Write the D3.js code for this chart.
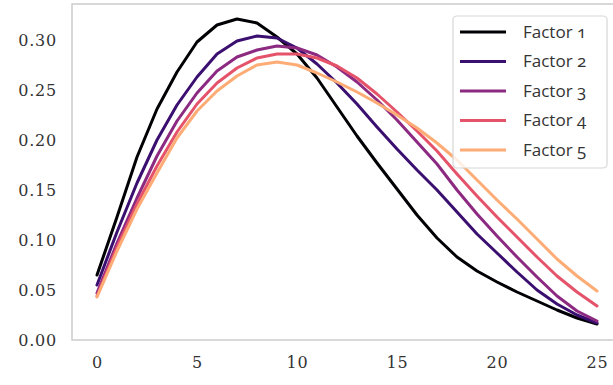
<!DOCTYPE html>
<html>
<head>
<meta charset="utf-8">
<script src="https://cdn.jsdelivr.net/npm/d3@7"></script>
<style>
  html, body { margin: 0; padding: 0; background: #fff; }
  svg { display: block; }
  .tick text { font-family: "DejaVu Serif", serif; font-size: 16px; fill: #333; letter-spacing: 0.8px; }
  .legend text { font-family: "Open Sans", "Noto Sans", sans-serif; font-size: 17px; fill: #333; font-variant-numeric: oldstyle-nums; font-feature-settings: "onum" 1; }
</style>
</head>
<body>
<script>
const xValues = d3.range(0, 26);
const seriesNames = ["Factor 1", "Factor 2", "Factor 3", "Factor 4", "Factor 5"];
const factor1 = [0.065,0.123,0.183,0.231,0.268,0.298,0.315,0.321,0.317,0.303,0.286,0.262,0.233,0.204,0.177,0.151,0.125,0.102,0.083,0.069,0.058,0.048,0.039,0.030,0.022,0.016];
const factor2 = [0.055,0.108,0.157,0.200,0.235,0.263,0.286,0.299,0.304,0.302,0.292,0.276,0.257,0.236,0.213,0.191,0.170,0.150,0.128,0.106,0.087,0.068,0.050,0.036,0.025,0.017];
const factor3 = [0.047,0.097,0.142,0.184,0.219,0.247,0.269,0.283,0.290,0.294,0.292,0.285,0.273,0.258,0.240,0.220,0.198,0.176,0.150,0.126,0.104,0.083,0.063,0.044,0.029,0.019];
const factor4 = [0.044,0.093,0.136,0.174,0.208,0.236,0.257,0.272,0.282,0.286,0.286,0.282,0.274,0.262,0.246,0.228,0.209,0.189,0.166,0.144,0.123,0.103,0.083,0.064,0.048,0.034];
const factor5 = [0.043,0.089,0.131,0.167,0.202,0.229,0.249,0.264,0.275,0.278,0.275,0.267,0.258,0.248,0.237,0.225,0.212,0.197,0.180,0.160,0.140,0.121,0.101,0.081,0.064,0.049];
const colors = ["#000004", "#3b0f70", "#8c2981", "#e5536a", "#fdac76"];
const xTicks = [0, 5, 10, 15, 20, 25];
const yTicks = [0.00, 0.05, 0.10, 0.15, 0.20, 0.25, 0.30];

const allSeries = [factor1, factor2, factor3, factor4, factor5];

const W = 613, H = 385;
const svg = d3.select("body").append("svg").attr("width", W).attr("height", H);

const x = d3.scaleLinear().domain([-1.25, 26.25]).range([72, 622]);
const y = d3.scaleLinear().domain([0, 0.336]).range([340, 4]);

// frame
svg.append("rect")
  .attr("x", x(-1.25)).attr("y", y(0.336))
  .attr("width", x(26.25) - x(-1.25)).attr("height", y(0) - y(0.336))
  .attr("fill", "none").attr("stroke", "#cccccc").attr("stroke-width", 1.5);

const xAxis = svg.append("g").attr("transform", `translate(0,${y(0)})`)
  .call(d3.axisBottom(x).tickValues(xTicks).tickSize(0).tickPadding(17).tickFormat(d3.format("d")));
xAxis.select(".domain").remove();

const yAxis = svg.append("g").attr("transform", `translate(${x(-1.25)},0)`)
  .call(d3.axisLeft(y).tickValues(yTicks).tickSize(0).tickPadding(15).tickFormat(d3.format(".2f")));
yAxis.select(".domain").remove();

const line = d3.line().x((d, i) => x(xValues[i])).y(d => y(d));

allSeries.forEach((s, k) => {
  svg.append("path").datum(s)
    .attr("d", line)
    .attr("fill", "none")
    .attr("stroke", colors[k])
    .attr("stroke-width", 3)
    .attr("stroke-linejoin", "round")
    .attr("stroke-linecap", "round");
});

// legend
const lg = svg.append("g").attr("class", "legend");
lg.append("rect")
  .attr("x", 453).attr("y", 16).attr("width", 154).attr("height", 152)
  .attr("rx", 4).attr("ry", 4)
  .attr("fill", "#fff").attr("fill-opacity", 0.8)
  .attr("stroke", "#d6d6d6").attr("stroke-width", 1.2);
seriesNames.forEach((name, k) => {
  const yy = 32 + k * 29.5;
  lg.append("line").attr("x1", 460).attr("x2", 506).attr("y1", yy).attr("y2", yy)
    .attr("stroke", colors[k]).attr("stroke-width", 3);
  lg.append("text").attr("x", 523).attr("y", yy).attr("dy", "0.35em").text(name);
});
</script>
</body>
</html>
